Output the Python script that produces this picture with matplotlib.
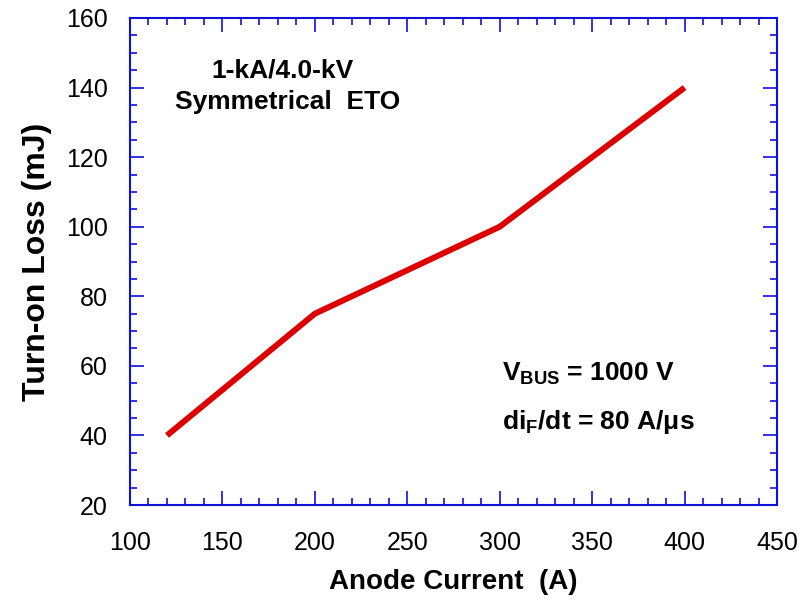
import matplotlib
matplotlib.use("Agg")
import matplotlib.pyplot as plt
from matplotlib.ticker import MultipleLocator

# data
anode_current = [120, 200, 300, 400]
turn_on_loss = [40, 75, 100, 140]

x_ticks = [100, 150, 200, 250, 300, 350, 400, 450]
y_ticks = [20, 40, 60, 80, 100, 120, 140, 160]

plt.rcParams['font.family'] = ['Liberation Sans', 'DejaVu Sans']
plt.rcParams['mathtext.fontset'] = 'custom'
plt.rcParams['mathtext.rm'] = 'Liberation Sans:bold'
plt.rcParams['mathtext.bf'] = 'Liberation Sans:bold'
plt.rcParams['mathtext.it'] = 'Liberation Sans:bold'

blue = '#1010dd'

fig = plt.figure(figsize=(7.99, 6.04), dpi=100)
ax = fig.add_axes([0.1627, 0.1639, 0.8098, 0.8063])

ax.plot(anode_current, turn_on_loss, color='#dd0000', linewidth=4.3, solid_capstyle='butt')

ax.set_xlim(100, 450)
ax.set_ylim(20, 160)
ax.set_xticks(x_ticks)
ax.set_yticks(y_ticks)
ax.xaxis.set_minor_locator(MultipleLocator(10))
ax.yaxis.set_minor_locator(MultipleLocator(5))

ax.tick_params(which='both', direction='in', top=True, right=True, color=blue,
               labelsize=18, width=1.2)
ax.tick_params(which='major', length=10)
ax.tick_params(which='minor', length=5)
ax.tick_params(axis='x', which='major', pad=19)
ax.tick_params(axis='y', which='major', pad=16)
for s in ax.spines.values():
    s.set_color(blue)
    s.set_linewidth(1.5)

ax.set_xlabel('Anode Current  (A)', fontsize=20, fontweight='bold', labelpad=10)
ax.set_ylabel('Turn-on Loss (mJ)', fontsize=23, fontweight='bold', labelpad=10)

ax.text(0.236, 0.893, '1-kA/4.0-kV', transform=ax.transAxes, ha='center', va='center',
        fontsize=19, fontweight='bold')
ax.text(0.244, 0.828, 'Symmetrical  ETO', transform=ax.transAxes, ha='center', va='center',
        fontsize=19, fontweight='bold')
ax.text(0.575, 0.27, r'V$_{\mathrm{BUS}}$ = 1000 V', transform=ax.transAxes, ha='left',
        va='center', fontsize=19, fontweight='bold')
ax.text(0.575, 0.17, r'di$_{\mathrm{F}}$/dt = 80 A/μs', transform=ax.transAxes, ha='left',
        va='center', fontsize=19, fontweight='bold')

fig.savefig('out.png', dpi=100)
